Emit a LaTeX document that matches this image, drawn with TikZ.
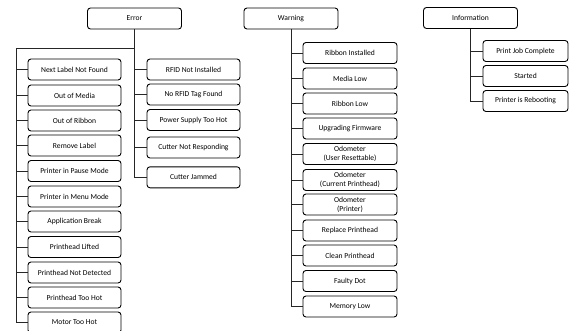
\documentclass[tikz,border=0pt]{standalone}
\usepackage{fontspec}
\setmainfont{Carlito}
\usepackage{tikz}
\usetikzlibrary{positioning,calc}

\begin{document}
\begin{tikzpicture}[x=1pt, y=-1pt, font=\fontsize{7.6}{9}\selectfont,
  box/.style={draw=black, line width=0.9pt, rounded corners=3pt, text=black,
    minimum height=21pt, inner xsep=1pt, inner ysep=1pt, align=center},
  headbox/.style={box, minimum width=94pt},
  leafbox/.style={box, minimum width=93pt},
  link/.style={black!85, line width=0.9pt}]
\useasboundingbox (0,0) rectangle (569,330);
% top level
\node[headbox] (err)  at (134.5,18.5) {Error};
\node[headbox] (warn) at (291,18.5)   {Warning};
\node[headbox] (info) at (470.5,18)   {Information};
% error, left column
\foreach \n/\y/\t in {1/69.5/Next Label Not Found, 2/95.5/Out of Media,
    3/120.5/Out of Ribbon, 4/145.5/Remove Label, 5/171/Printer in Pause Mode,
    6/196.5/Printer in Menu Mode, 7/221.5/Application Break,
    8/247/Printhead Lifted, 9/272.5/Printhead Not Detected,
    10/297.5/Printhead Too Hot, 11/322.5/Motor Too Hot}
  \node[leafbox] (el\n) at (74.5,\y) {\t};
% error, right column
\foreach \n/\y/\t in {1/69.5/RFID Not Installed, 2/94.5/No RFID Tag Found,
    3/120/Power Supply Too Hot, 4/147.5/Cutter Not Responding,
    5/177.3/Cutter Jammed}
  \node[leafbox] (er\n) at (193.5,\y) {\t};
% warning
\foreach \n/\y/\t in {1/53/Ribbon Installed, 2/78.5/Media Low, 3/103.5/Ribbon Low,
    4/128.5/Upgrading Firmware, 5/154/Odometer\\(User Resettable),
    6/180/Odometer\\(Current Printhead), 7/204.5/Odometer\\(Printer),
    8/230.5/Replace Printhead, 9/255.5/Clean Printhead, 10/281/Faulty Dot,
    11/306.5/Memory Low}
  \node[box, minimum width=94pt] (w\n) at (350,\y) {\t};
% information
\foreach \n/\y/\t in {1/51/Print Job Complete, 2/76/Started, 3/101/Printer is Rebooting}
  \node[box, minimum width=85pt] (i\n) at (525.5,\y) {\t};
% connectors
\coordinate (ebus) at (16,48);
\draw[link] (err.south) -- (err.south |- er5) -- (er5.west);
\draw[link] (err.south |- ebus) -- (ebus) -- (ebus |- el11) -- (el11.west);
\foreach \n in {1,...,10} \draw[link] (ebus |- el\n) -- (el\n.west);
\foreach \n in {1,...,4} \draw[link] (err.south |- er\n) -- (er\n.west);
\draw[link] (warn.south) -- (warn.south |- w11) -- (w11.west);
\foreach \n in {1,...,10} \draw[link] (warn.south |- w\n) -- (w\n.west);
\draw[link] (info.south) -- (info.south |- i3) -- (i3.west);
\foreach \n in {1,2} \draw[link] (info.south |- i\n) -- (i\n.west);
\end{tikzpicture}
\end{document}
